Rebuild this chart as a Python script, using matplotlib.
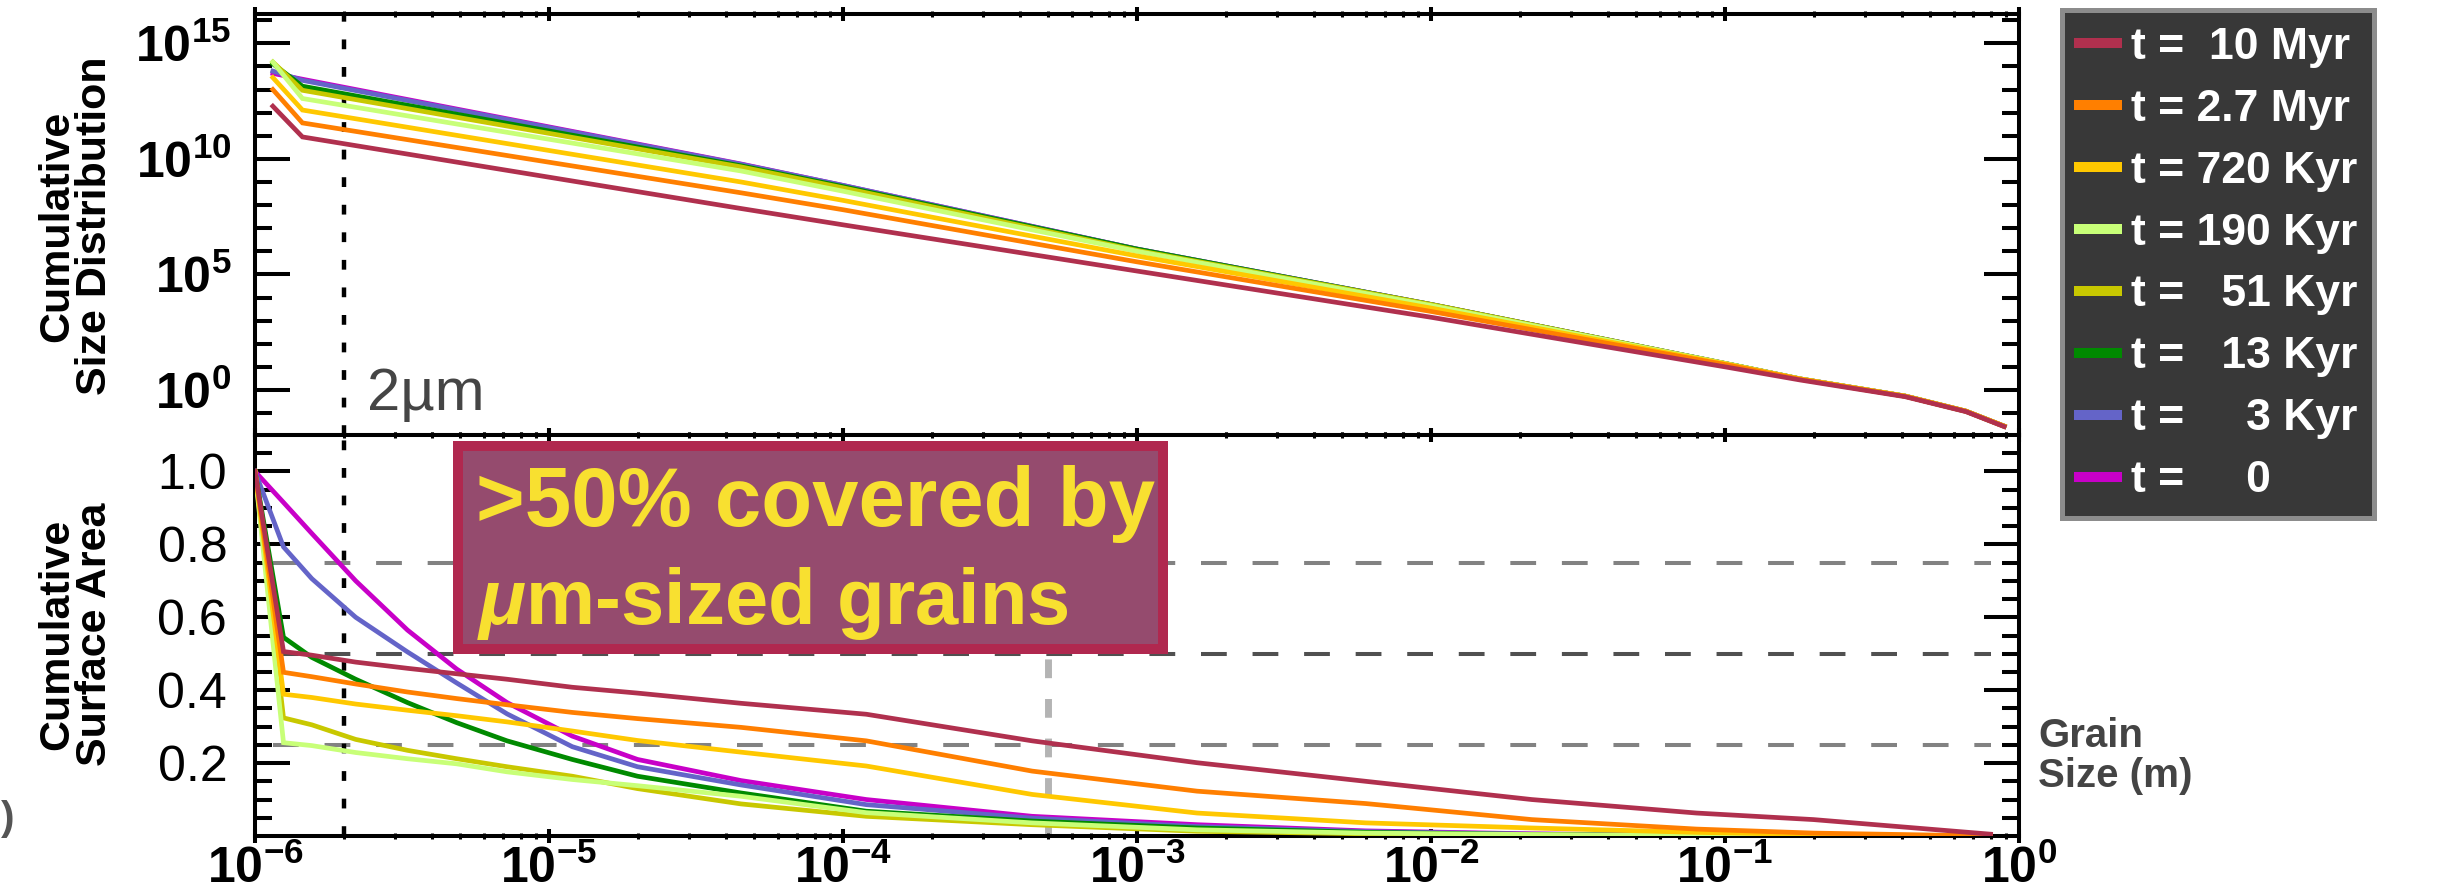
import matplotlib
matplotlib.use("Agg")
import matplotlib.pyplot as plt
from matplotlib.lines import Line2D
from matplotlib.patches import Rectangle
from matplotlib.ticker import FixedLocator, LogLocator, NullFormatter
from matplotlib.transforms import blended_transform_factory

plt.rcParams['font.family'] = ['Liberation Sans', 'DejaVu Sans']
plt.rcParams['mathtext.fontset'] = 'custom'
plt.rcParams['mathtext.rm'] = 'Liberation Sans:bold'
plt.rcParams['mathtext.it'] = 'Liberation Sans:bold:italic'
plt.rcParams['mathtext.bf'] = 'Liberation Sans:bold'

# ---- data -------------------------------------------------------------
labels = ["t =  10 Myr", "t = 2.7 Myr", "t = 720 Kyr", "t = 190 Kyr",
          "t =   51 Kyr", "t =   13 Kyr", "t =     3 Kyr", "t =     0"]
colors = ["#b0304e", "#ff7f00", "#ffc800", "#c8ff78",
          "#c8c800", "#008a00", "#6464c8", "#c800c8"]

# cumulative size distribution N(>a), grain size a in m
size_top = [1.15e-6, 1.45e-6, 4.5e-5, 1e-4, 1e-3, 1e-2, 1e-1, 0.18, 0.41, 0.66, 0.89]
csd_10myr = [1.9e12, 8.9e10, 7.1e7, 1.4e7, 1.4e5, 1.4e3, 10, 2.7, 0.51, 0.115, 0.026]
csd_2p7myr = [1.0e13, 3.6e11, 3.4e8, 6.3e7, 3.5e5, 2.5e3, 12.6, 2.9, 0.53, 0.12, 0.027]
csd_720kyr = [3.3e13, 1.3e12, 1.0e9, 1.6e8, 6.3e5, 3.5e3, 13.5, 3.0, 0.54, 0.12, 0.027]
csd_190kyr = [1.55e14, 4.1e12, 3.0e9, 4.0e8, 1.0e6, 4.5e3, 14, 3.0, 0.54, 0.12, 0.027]
csd_51kyr = [1.55e14, 9.3e12, 4.5e9, 5.6e8, 1.1e6, 5.0e3, 14, 3.0, 0.54, 0.12, 0.027]
csd_13kyr = [1.3e14, 1.4e13, 5.0e9, 6.3e8, 1.25e6, 5.0e3, 14, 3.0, 0.54, 0.12, 0.027]
csd_3kyr = [6.3e13, 2.5e13, 5.8e9, 7.1e8, 1.25e6, 5.0e3, 14, 3.0, 0.54, 0.12, 0.027]
csd_0 = [5.0e13, 2.8e13, 6.0e9, 7.1e8, 1.25e6, 5.0e3, 14, 3.0, 0.54, 0.12, 0.027]

# cumulative surface area fraction
size_bot = [1e-6, 1.25e-6, 1.56e-6, 2.2e-6, 3.3e-6, 4.85e-6, 7.2e-6, 1.2e-5, 2e-5,
            4.5e-5, 1.2e-4, 4.4e-4, 1.6e-3, 6e-3, 2.2e-2, 8e-2, 0.2, 0.8]
csa_10myr = [1.0, 0.506, 0.496, 0.477, 0.46, 0.445, 0.43, 0.408, 0.392,
             0.364, 0.334, 0.261, 0.201, 0.150, 0.100, 0.063, 0.045, 0.005]
csa_2p7myr = [1.0, 0.449, 0.437, 0.417, 0.395, 0.377, 0.360, 0.339, 0.322,
              0.298, 0.261, 0.178, 0.123, 0.089, 0.045, 0.019, 0.008, 0.0]
csa_720kyr = [1.0, 0.389, 0.380, 0.362, 0.345, 0.330, 0.313, 0.288, 0.262,
              0.230, 0.192, 0.114, 0.063, 0.036, 0.022, 0.010, 0.004, 0.0]
csa_190kyr = [1.0, 0.256, 0.248, 0.229, 0.212, 0.198, 0.176, 0.155, 0.138,
              0.109, 0.064, 0.036, 0.017, 0.008, 0.004, 0.001, 0.0, 0.0]
csa_51kyr = [1.0, 0.324, 0.305, 0.265, 0.235, 0.212, 0.190, 0.164, 0.130,
             0.088, 0.054, 0.031, 0.013, 0.006, 0.003, 0.001, 0.0, 0.0]
csa_13kyr = [1.0, 0.545, 0.490, 0.430, 0.366, 0.311, 0.261, 0.210, 0.164,
             0.118, 0.068, 0.041, 0.022, 0.010, 0.004, 0.001, 0.0, 0.0]
csa_3kyr = [1.0, 0.793, 0.706, 0.600, 0.505, 0.420, 0.335, 0.245, 0.190,
            0.140, 0.086, 0.049, 0.026, 0.012, 0.005, 0.002, 0.001, 0.0]
csa_0 = [1.0, 0.915, 0.830, 0.700, 0.565, 0.458, 0.366, 0.274, 0.210,
         0.152, 0.100, 0.054, 0.031, 0.014, 0.006, 0.002, 0.001, 0.0]

csd_series = [csd_10myr, csd_2p7myr, csd_720kyr, csd_190kyr, csd_51kyr, csd_13kyr, csd_3kyr, csd_0]
csa_series = [csa_10myr, csa_2p7myr, csa_720kyr, csa_190kyr, csa_51kyr, csa_13kyr, csa_3kyr, csa_0]

xticks = [1e-6, 1e-5, 1e-4, 1e-3, 1e-2, 1e-1, 1e0]
xticklabels = [r'$10^{-6}$', r'$10^{-5}$', r'$10^{-4}$', r'$10^{-3}$',
               r'$10^{-2}$', r'$10^{-1}$', r'$10^{0}$']
csd_ticks = [1e0, 1e5, 1e10, 1e15]
csd_ticklabels = [r'$10^{0}$', r'$10^{5}$', r'$10^{10}$', r'$10^{15}$']
csa_ticks = [0.2, 0.4, 0.6, 0.8, 1.0]
csa_ticklabels = ['0.2', '0.4', '0.6', '0.8', '1.0']
area_levels = [0.75, 0.5, 0.25]
level_colors = ['#828282', '#505050', '#828282']
small_grain = 2e-6
half_area_size = 5e-4

# ---- figure -----------------------------------------------------------
W, H = 2454, 896
fig = plt.figure(figsize=(W / 100, H / 100), dpi=100)
x0, x1 = 255 / W, 2019 / W
ax1 = fig.add_axes([x0, 1 - 435 / H, x1 - x0, (435 - 14) / H])
ax2 = fig.add_axes([x0, 1 - 836 / H, x1 - x0, (836 - 435) / H])

lw = 3.4
for ys, c in list(zip(csd_series, colors))[::-1]:
    ax1.plot(size_top, ys, color=c, lw=lw, solid_joinstyle='miter', zorder=3)
for ys, c in list(zip(csa_series, colors))[::-1]:
    ax2.plot(size_bot, ys, color=c, lw=lw, solid_joinstyle='miter', zorder=3)

# reference lines
for ax in (ax1, ax2):
    ax.axvline(small_grain, color='black', lw=3.2, linestyle=(0, (2.2, 4.0)), zorder=2)
for lev, lc in zip(area_levels, level_colors):
    ax2.hlines(lev, 1.15e-6, 0.8, color=lc, lw=2.9, linestyle=(0, (6.4, 6.4)), zorder=1)
ax2.vlines(half_area_size, 0, 0.5, color='#b4b4b4', lw=5, linestyle=(0, (2.7, 3.0)), zorder=1)

# axes styling
for ax in (ax1, ax2):
    ax.set_xscale('log')
    ax.set_xlim(1e-6, 1.0)
    for s in ax.spines.values():
        s.set_linewidth(2.9)
    ax.xaxis.set_minor_locator(LogLocator(base=10, subs=range(2, 10), numticks=20))
    ax.xaxis.set_minor_formatter(NullFormatter())
    ax.tick_params(axis='x', which='major', direction='inout', length=9.5, width=2.9,
                   top=True, bottom=True)
    ax.tick_params(axis='x', which='minor', direction='inout', length=4, width=2.2,
                   top=True, bottom=True)
    ax.tick_params(axis='y', which='major', direction='in', length=25, width=2.9,
                   left=True, right=True, labelsize=36)
    ax.tick_params(axis='y', which='minor', direction='in', length=12.5, width=2.9,
                   left=True, right=True)

ax1.set_yscale('log')
ax1.set_ylim(10 ** -1.95, 10 ** 16.27)
ax1.set_yticks(csd_ticks, csd_ticklabels)
ax1.yaxis.set_minor_locator(FixedLocator([10.0 ** k for k in range(-1, 17) if k % 5]))
ax1.yaxis.set_minor_formatter(NullFormatter())
ax1.tick_params(axis='x', labelbottom=False)
ax1.tick_params(axis='y', which='major', pad=17)

ax2.set_ylim(0, 1.1)
ax2.set_yticks(csa_ticks, csa_ticklabels)
ax2.yaxis.set_minor_locator(FixedLocator([0.05 * k for k in range(1, 22) if k % 4]))
ax2.tick_params(axis='y', which='major', pad=20)
ax2.set_xticks(xticks, xticklabels)
ax2.tick_params(axis='x', which='major', labelsize=36, pad=2)

# 2 micron label
tr = blended_transform_factory(ax1.transData, ax1.transAxes)
ax1.text(2.4e-6, 0.059, '2\u00b5m', transform=tr, fontsize=43, color='#454545',
         ha='left', va='baseline')

# annotation box
box = Rectangle((202.6 / 1764, (836.3 - 649.3) / 400), 705.3 / 1764, 201.6 / 400,
                transform=ax2.transAxes, facecolor='#954b6e', edgecolor='#b0284f',
                lw=7.2, zorder=5, clip_on=False)
ax2.add_patch(box)
ax2.text(220.5 / 1764, (836.3 - 526.7) / 400, '>50% covered by', transform=ax2.transAxes,
         fontsize=60, fontweight='bold', color='#f8e030', ha='left', va='baseline', zorder=6)
ax2.text(222 / 1764, (836.3 - 625) / 400, r'$\mu$m-sized grains', transform=ax2.transAxes,
         fontsize=56, fontweight='bold', color='#f8e030', ha='left', va='baseline', zorder=6)

# axis labels
fig.text(76 / W, 1 - 226 / H, 'Cumulative\nSize Distribution', rotation=90, fontsize=31,
         fontweight='bold', ha='center', va='center', multialignment='center', linespacing=0.95)
fig.text(76 / W, 1 - 634 / H, 'Cumulative\nSurface Area', rotation=90, fontsize=31,
         fontweight='bold', ha='center', va='center', multialignment='center', linespacing=0.95)
fig.text(2038 / W, 1 - 787 / H, 'Grain\nSize (m)', fontsize=29, fontweight='bold',
         color='#444444', ha='left', va='baseline', linespacing=1.07)
fig.text(1 / W, 1 - 830 / H, ')', fontsize=29, fontweight='bold', color='#555555',
         ha='left', va='baseline')

# legend
handles = [Line2D([], [], color=c, lw=7.2) for c in colors]
leg = fig.legend(handles, labels, loc='upper left', bbox_to_anchor=(2062 / W, 1 - 10 / H),
                 bbox_transform=fig.transFigure, borderaxespad=0, fancybox=False,
                 framealpha=1, facecolor='#383838', edgecolor='#8c8c8c',
                 prop={'family': 'Liberation Sans', 'weight': 'bold', 'size': 32},
                 handlelength=0.85, handletextpad=0.32, borderpad=0.38, labelspacing=0.47)
leg.get_frame().set_linewidth(3.6)
for t in leg.get_texts():
    t.set_color('white')

fig.savefig('out.png', dpi=100)
